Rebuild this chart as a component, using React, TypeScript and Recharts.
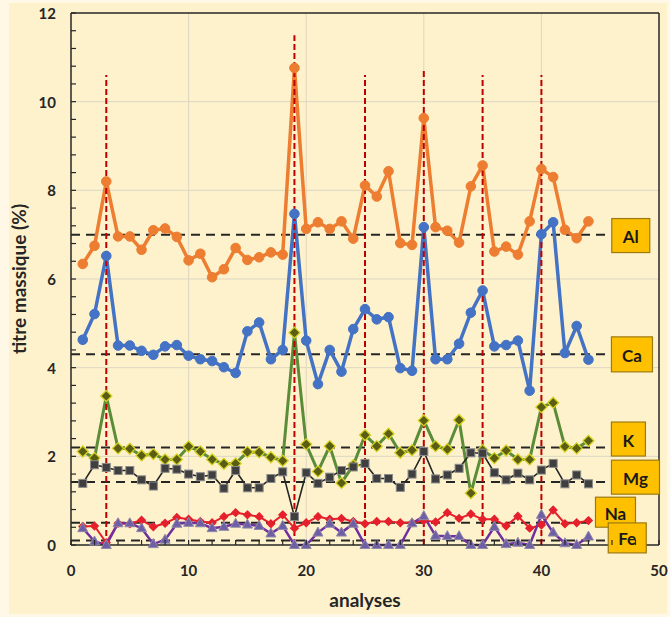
import React from "react";
import { LineChart, Line, XAxis, YAxis, CartesianGrid, ReferenceLine, ReferenceDot, Label } from "recharts";

// analyses number (x) and mass titre (%) per element
const analyses = [1, 2, 3, 4, 5, 6, 7, 8, 9, 10, 11, 12, 13, 14, 15, 16, 17, 18, 19, 20, 21, 22, 23, 24, 25, 26, 27, 28, 29, 30, 31, 32, 33, 34, 35, 36, 37, 38, 39, 40, 41, 42, 43, 44];

const al = [6.34, 6.75, 8.2, 6.96, 6.96, 6.66, 7.1, 7.14, 6.95, 6.42, 6.57, 6.04, 6.22, 6.7, 6.43, 6.49, 6.6, 6.55, 10.76, 7.13, 7.28, 7.13, 7.3, 6.91, 8.11, 7.86, 8.43, 6.81, 6.77, 9.63, 7.17, 7.09, 6.82, 8.09, 8.56, 6.62, 6.73, 6.55, 7.3, 8.48, 8.3, 7.11, 6.92, 7.3];
const ca = [4.63, 5.21, 6.52, 4.5, 4.5, 4.38, 4.29, 4.48, 4.51, 4.27, 4.19, 4.15, 4.01, 3.88, 4.82, 5.02, 4.19, 4.4, 7.47, 4.61, 3.63, 4.4, 3.91, 4.87, 5.32, 5.09, 5.14, 3.99, 3.93, 7.17, 4.19, 4.19, 4.54, 5.24, 5.74, 4.48, 4.51, 4.61, 3.48, 7.01, 7.28, 4.33, 4.94, 4.18];
const k = [2.11, 1.96, 3.36, 2.18, 2.17, 2.02, 2.05, 1.93, 1.93, 2.22, 2.11, 1.93, 1.83, 1.84, 2.1, 2.09, 1.98, 1.9, 4.79, 2.27, 1.66, 2.23, 1.4, 1.8, 2.48, 2.23, 2.51, 2.08, 2.14, 2.81, 2.23, 2.16, 2.82, 1.17, 2.14, 1.96, 2.13, 1.93, 1.93, 3.11, 3.21, 2.22, 2.18, 2.35];
const mg = [1.39, 1.81, 1.75, 1.68, 1.68, 1.47, 1.33, 1.73, 1.71, 1.6, 1.54, 1.58, 1.28, 1.68, 1.29, 1.29, 1.5, 1.65, 0.64, 1.63, 1.39, 1.53, 1.68, 1.76, 1.84, 1.5, 1.5, 1.3, 1.6, 2.11, 1.49, 1.58, 1.73, 2.08, 2.07, 1.63, 1.47, 1.62, 1.47, 1.69, 1.84, 1.38, 1.58, 1.38];
const na = [0.42, 0.43, 0.05, 0.49, 0.48, 0.56, 0.41, 0.49, 0.62, 0.58, 0.53, 0.5, 0.64, 0.73, 0.68, 0.64, 0.48, 0.68, 0.38, 0.5, 0.64, 0.58, 0.6, 0.53, 0.48, 0.53, 0.53, 0.5, 0.5, 0.55, 0.52, 0.73, 0.6, 0.7, 0.58, 0.58, 0.43, 0.65, 0.38, 0.45, 0.79, 0.48, 0.5, 0.55];
const fe = [0.38, 0.08, 0, 0.49, 0.49, 0.38, 0.02, 0.12, 0.48, 0.5, 0.49, 0.38, 0.41, 0.48, 0.46, 0.43, 0.26, 0.43, 0, 0, 0.28, 0.48, 0.28, 0.48, 0, 0, 0, 0, 0.49, 0.65, 0.21, 0.2, 0.2, 0, 0, 0.41, 0.02, 0.05, 0, 0.68, 0.28, 0.04, 0, 0.19];

// mean levels (black dashes) and flagged analyses (red dashes)
const elements = ["Al", "Ca", "K", "Mg", "Na", "Fe"];
const meanLevels = [7.0, 4.3, 2.2, 1.42, 0.5, 0.1];
const flagged = [3, 19, 25, 30, 35, 40];
const flagTops = [10.6, 11.5, 10.6, 10.7, 10.6, 10.6];

const xTicks = [0, 2, 4, 6, 8, 10, 12, 14, 16, 18, 20, 22, 24, 26, 28, 30, 32, 34, 36, 38, 40, 42, 44, 46, 48, 50];
const xLabels = [0, 10, 20, 30, 40, 50];
const yTicks = [0, 0.4, 0.8, 1.2, 1.6, 2, 2.4, 2.8, 3.2, 3.6, 4, 4.4, 4.8, 5.2, 5.6, 6, 6.4, 6.8, 7.2, 7.6, 8, 8.4, 8.8, 9.2, 9.6, 10, 10.4, 10.8, 11.2, 11.6, 12];
const yLabels = [0, 2, 4, 6, 8, 10, 12];

const data = analyses.map((n, i) => ({ n, al: al[i], ca: ca[i], k: k[i], mg: mg[i], na: na[i], fe: fe[i] }));

// where the element tags sit (data coords) and how big they are
const tagSpots = [
    { x: 47.6, y: 6.98, w: 38, h: 34 },
    { x: 47.7, y: 4.3, w: 41, h: 35 },
    { x: 47.4, y: 2.39, w: 34, h: 34 },
    { x: 48.0, y: 1.53, w: 48, h: 34 },
    { x: 46.3, y: 0.74, w: 40, h: 30 },
    { x: 47.3, y: 0.16, w: 38, h: 30 },
];

const FONT = "Lato, 'Open Sans', sans-serif";
const INK = "#262626";

const YTick = ({ x, y, payload }: any) => {
    const v = payload.value;
    const major = yLabels.some((l) => Math.abs(l - v) < 1e-6);
    return (
        <g>
            <line x1={x} x2={x + 5} y1={y} y2={y} stroke={INK} strokeWidth={1.2} />
            {major && (
                <text x={x - 15} y={y} textAnchor="end" dominantBaseline="central" fontFamily={FONT} fontWeight={700} fontSize={15} fill={INK}>
                    {v}
                </text>
            )}
        </g>
    );
};

const XTick = ({ x, y, payload }: any) => {
    const v = payload.value;
    return (
        <g>
            <line x1={x} x2={x} y1={y} y2={y - 5} stroke={INK} strokeWidth={1.2} />
            {xLabels.includes(v) && (
                <text x={x} y={y + 25} textAnchor="middle" dominantBaseline="central" fontFamily={FONT} fontWeight={700} fontSize={15} fill={INK}>
                    {v}
                </text>
            )}
        </g>
    );
};

const Circle = (color: string) => (p: any) =>
    <circle key={p.index} cx={p.cx} cy={p.cy} r={4.8} fill={color} stroke={color} strokeWidth={1} />;

const Diamond = (fill: string, stroke: string, s: number) => (p: any) =>
    <path key={p.index} d={`M${p.cx},${p.cy - s}L${p.cx + s},${p.cy}L${p.cx},${p.cy + s}L${p.cx - s},${p.cy}Z`} fill={fill} stroke={stroke} strokeWidth={1.3} />;

const Square = (p: any) =>
    <rect key={p.index} x={p.cx - 4} y={p.cy - 4} width={8} height={8} fill="#3f3f3f" stroke="#8a8a8a" strokeWidth={1} />;

const Triangle = (p: any) =>
    <path key={p.index} d={`M${p.cx},${p.cy - 5.5}L${p.cx + 5},${p.cy + 3.5}L${p.cx - 5},${p.cy + 3.5}Z`} fill="#6e5ea6" stroke="#8f8aa8" strokeWidth={1} />;

const TagBox = ({ cx, cy, w, h, text }: any) => (
    <g>
        <rect x={cx - w / 2} y={cy - h / 2} width={w} height={h} fill="#FFC000" stroke="#9c7a12" strokeWidth={1.2} />
        <text x={cx} y={cy + 1} textAnchor="middle" dominantBaseline="central" fontFamily={FONT} fontWeight={700} fontSize={17} fill="#1a1a1a">
            {text}
        </text>
    </g>
);

export default function App() {
    return (
        <div style={{ position: "absolute", left: 0, top: 0, width: 670, height: 617, background: "#FFF8E6" }}>
            <div style={{ position: "absolute", left: 9, top: 3, width: 658, height: 611, background: "#FEF2CC" }} />
            <div style={{ position: "absolute", left: 0, top: 0 }}>
                <LineChart width={670} height={617} data={data} margin={{ top: 13, right: 11, left: 21, bottom: 0 }}>
                    <CartesianGrid stroke="#ddd6c2" strokeWidth={1} verticalValues={[10, 20, 30, 40]} horizontalValues={[2, 4, 6, 8, 10]} />
                    <XAxis
                        dataKey="n"
                        type="number"
                        domain={[0, 50]}
                        ticks={xTicks}
                        interval={0}
                        height={72}
                        tickSize={0}
                        tickMargin={0}
                        tick={<XTick />}
                        axisLine={{ stroke: INK, strokeWidth: 1.5 }}
                        tickLine={false}
                    >
                        <Label value="analyses" position="insideBottom" offset={10} style={{ fontFamily: FONT, fontWeight: 700, fontSize: 19, fill: INK }} />
                    </XAxis>
                    <YAxis
                        type="number"
                        domain={[0, 12]}
                        ticks={yTicks}
                        interval={0}
                        width={50}
                        tickSize={0}
                        tickMargin={0}
                        tick={<YTick />}
                        axisLine={{ stroke: INK, strokeWidth: 1.5 }}
                        tickLine={false}
                    >
                        <Label
                            content={({ viewBox }: any) => {
                                const cy = viewBox.y + viewBox.height / 2;
                                return (
                                    <text x={18} y={cy} transform={`rotate(-90, 18, ${cy})`} textAnchor="middle" dominantBaseline="central" fontFamily={FONT} fontWeight={700} fontSize={19} fill={INK}>
                                        titre massique (%)
                                    </text>
                                );
                            }}
                        />
                    </YAxis>
                    <ReferenceLine y={12} stroke={INK} strokeWidth={1.5} />
                    <ReferenceLine x={50} stroke={INK} strokeWidth={1.5} />
                    {meanLevels.map((lv, i) => (
                        <ReferenceLine key={`m-${i}`} segment={[{ x: 0, y: lv }, { x: 45.5, y: lv }]} stroke="#262626" strokeWidth={2} strokeDasharray="9 6" />
                    ))}
                    <Line dataKey="al" stroke="#ED7D31" strokeWidth={3.5} dot={Circle("#ED7D31")} isAnimationActive={false} />
                    <Line dataKey="ca" stroke="#4472C4" strokeWidth={3.5} dot={Circle("#4472C4")} isAnimationActive={false} />
                    <Line dataKey="k" stroke="#5B8C38" strokeWidth={3} dot={Diamond("#5a5e14", "#d6d21c", 5.5)} isAnimationActive={false} />
                    <Line dataKey="mg" stroke="#262626" strokeWidth={1.6} dot={Square} isAnimationActive={false} />
                    <Line dataKey="na" stroke="#E5202C" strokeWidth={2} dot={Diamond("#E5202C", "#E5202C", 3.8)} isAnimationActive={false} />
                    <Line dataKey="fe" stroke="#7030A0" strokeWidth={2.5} dot={Triangle} isAnimationActive={false} />
                    {flagged.map((x, i) => (
                        <ReferenceLine key={`f-${i}`} segment={[{ x, y: 0 }, { x, y: flagTops[i] }]} stroke="#C00000" strokeWidth={2} strokeDasharray="6 3" />
                    ))}
                    {tagSpots.map((t, i) => (
                        <ReferenceDot
                            key={`t-${i}`}
                            x={t.x}
                            y={t.y}
                            r={1}
                            ifOverflow="visible"
                            shape={(p: any) => <TagBox cx={p.cx} cy={p.cy} w={t.w} h={t.h} text={elements[i]} />}
                        />
                    ))}
                </LineChart>
            </div>
        </div>
    );
}
